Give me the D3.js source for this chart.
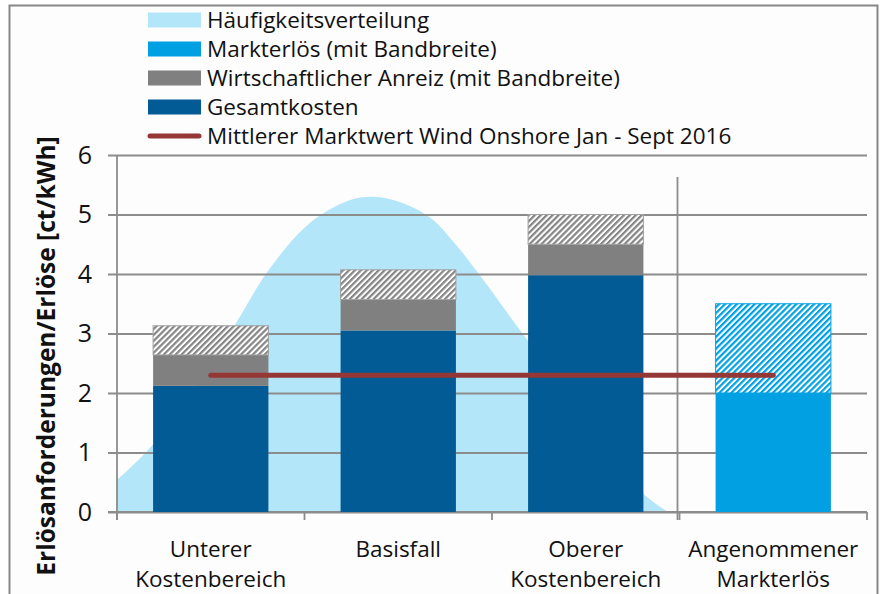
<!DOCTYPE html>
<html lang="de">
  <head>
    <meta charset="UTF-8" />
    <script src="https://d3js.org/d3.v7.min.js"></script>
    <title>Erlösanforderungen</title>
    <style>
      body { margin: 0; background: #fff; }
      text { font-family: "Open Sans", "Noto Sans", sans-serif; fill: #111; }
    </style>
  </head>
  <body>
    <div id="chart"></div>
    <script>
      // data
      var categories = [
        ["Unterer", "Kostenbereich"],
        ["Basisfall"],
        ["Oberer", "Kostenbereich"],
        ["Angenommener", "Markterlös"]
      ];
      var gesamtkosten = [2.12, 3.05, 3.98, 0];
      var anreiz = [0.52, 0.52, 0.52, 0];
      var anreizBand = [0.49, 0.5, 0.5, 0];
      var markterloes = [0, 0, 0, 2.0];
      var markterloesBand = [0, 0, 0, 1.5];
      var marktwert = 2.3; // Mittlerer Marktwert Wind Onshore
      // frequency distribution, position in category units
      var verteilungPos = [0, 0.19, 0.6, 0.81, 1.03, 1.24, 1.36, 1.5, 1.67, 1.8, 1.93, 2.17, 2.36, 2.57, 2.79, 2.89, 2.94];
      var verteilungVal = [0.54, 1.13, 3.0, 4.07, 4.86, 5.24, 5.3, 5.22, 4.95, 4.52, 4.0, 2.97, 2.18, 1.3, 0.36, 0.1, 0];
      var yTicks = [0, 1, 2, 3, 4, 5, 6];
      var legendNames = [
        "Häufigkeitsverteilung",
        "Markterlös (mit Bandbreite)",
        "Wirtschaftlicher Anreiz (mit Bandbreite)",
        "Gesamtkosten",
        "Mittlerer Marktwert Wind Onshore Jan - Sept 2016"
      ];

      var colors = {
        verteilung: "#b4e6fa",
        markt: "#00a0e3",
        anreiz: "#808080",
        kosten: "#025b94",
        line: "#953735",
        grid: "#8c8c8c"
      };

      var width = 880,
        height = 594,
        plot = { left: 117, right: 867, top: 155, bottom: 512 };

      var svg = d3.select("#chart").append("svg")
        .attr("width", width).attr("height", height);

      var defs = svg.append("defs");
      function hatch(id, color) {
        var p = defs.append("pattern")
          .attr("id", id)
          .attr("patternUnits", "userSpaceOnUse")
          .attr("width", 4.2).attr("height", 4.2)
          .attr("patternTransform", "rotate(45)");
        p.append("rect").attr("width", 4.2).attr("height", 4.2).attr("fill", "#fff");
        p.append("rect").attr("width", 2.2).attr("height", 4.2).attr("fill", color);
      }
      hatch("hatch-gray", "#858585");
      hatch("hatch-blue", colors.markt);

      // outer frame
      svg.append("rect")
        .attr("x", 9.5).attr("y", 5.5)
        .attr("width", 868).attr("height", 620)
        .attr("fill", "#fdfdfd")
        .attr("stroke", "#878787").attr("stroke-width", 2);

      var x = d3.scaleBand()
        .domain(d3.range(categories.length))
        .range([plot.left, plot.right]);
      var xc = d3.scaleLinear().domain([0, categories.length]).range([plot.left, plot.right]);
      var y = d3.scaleLinear().domain([0, 6]).range([plot.bottom, plot.top]);

      // distribution area
      var area = d3.area()
        .x(function (d) { return xc(d[0]); })
        .y0(y(0))
        .y1(function (d) { return y(d[1]); })
        .curve(d3.curveCatmullRom.alpha(0.5));
      svg.append("path")
        .datum(d3.zip(verteilungPos, verteilungVal))
        .attr("d", area)
        .attr("fill", colors.verteilung);

      // gridlines + y axis
      var yAxis = d3.axisLeft(y)
        .tickValues(yTicks)
        .tickSize(-(plot.right - plot.left))
        .tickFormat(d3.format("d"));
      var gy = svg.append("g")
        .attr("transform", "translate(" + plot.left + ",0)")
        .call(yAxis);
      gy.select(".domain").remove();
      gy.selectAll(".tick line")
        .attr("x1", -9)
        .attr("stroke", colors.grid).attr("stroke-width", 1.8);
      gy.selectAll(".tick text")
        .attr("x", -25)
        .attr("font-size", 25)
        .attr("fill", "#111");
      svg.append("line")
        .attr("x1", plot.left).attr("x2", plot.left)
        .attr("y1", plot.top).attr("y2", plot.bottom + 8)
        .attr("stroke", colors.grid).attr("stroke-width", 1.8);

      // x axis with ticks at category boundaries
      var gx = svg.append("g");
      gx.selectAll("line.xt")
        .data(d3.range(categories.length + 1))
        .join("line")
        .attr("class", "xt")
        .attr("x1", function (d) { return xc(d); })
        .attr("x2", function (d) { return xc(d); })
        .attr("y1", plot.bottom).attr("y2", plot.bottom + 8)
        .attr("stroke", colors.grid).attr("stroke-width", 1.8);
      gx.append("line")
        .attr("x1", plot.left - 9).attr("x2", plot.right)
        .attr("y1", plot.bottom).attr("y2", plot.bottom)
        .attr("stroke", colors.grid).attr("stroke-width", 1.8);

      // separator between cost cases and market revenue
      svg.append("line")
        .attr("x1", xc(3) - 2).attr("x2", xc(3) - 2)
        .attr("y1", 177).attr("y2", plot.bottom + 8)
        .attr("stroke", colors.grid).attr("stroke-width", 1.8);

      gx.selectAll("text.cat")
        .data(categories)
        .join("text")
        .attr("class", "cat")
        .attr("text-anchor", "middle")
        .attr("font-size", 22.5)
        .attr("x", function (d, i) { return x(i) + x.bandwidth() / 2; })
        .attr("y", 557)
        .selectAll("tspan")
        .data(function (d) { return d; })
        .join("tspan")
        .attr("x", function () { return d3.select(this.parentNode).attr("x"); })
        .attr("dy", function (d, i) { return i ? 30 : 0; })
        .text(function (d) { return d; });

      // stacked bars
      var keys = ["kosten", "anreiz", "anreizBand", "markt", "marktBand"];
      var rows = categories.map(function (c, i) {
        return {
          kosten: gesamtkosten[i],
          anreiz: anreiz[i],
          anreizBand: anreizBand[i],
          markt: markterloes[i],
          marktBand: markterloesBand[i]
        };
      });
      var fills = {
        kosten: colors.kosten,
        anreiz: colors.anreiz,
        anreizBand: "url(#hatch-gray)",
        markt: colors.markt,
        marktBand: "url(#hatch-blue)"
      };
      var strokes = { anreizBand: "#a0a0a0", marktBand: colors.markt };
      var stack = d3.stack().keys(keys)(rows);
      var barW = x.bandwidth() * 0.615;

      svg.selectAll("g.layer")
        .data(stack)
        .join("g")
        .attr("class", "layer")
        .selectAll("rect")
        .data(function (s) {
          return s.map(function (d, i) { return { key: s.key, i: i, y0: d[0], y1: d[1] }; })
            .filter(function (d) { return d.y1 > d.y0; });
        })
        .join("rect")
        .attr("x", function (d) { return x(d.i) + (x.bandwidth() - barW) / 2; })
        .attr("width", barW)
        .attr("y", function (d) { return y(d.y1); })
        .attr("height", function (d) { return y(d.y0) - y(d.y1); })
        .attr("fill", function (d) { return fills[d.key]; })
        .attr("stroke", function (d) { return strokes[d.key] || "none"; })
        .attr("stroke-width", 1);

      // average market value line
      svg.append("line")
        .attr("x1", x(0) + x.bandwidth() / 2)
        .attr("x2", x(3) + x.bandwidth() / 2)
        .attr("y1", y(marktwert)).attr("y2", y(marktwert))
        .attr("stroke", colors.line).attr("stroke-width", 5)
        .attr("stroke-linecap", "round");

      // y axis title
      svg.append("text")
        .attr("transform", "translate(45," + 356 + ") rotate(-90)")
        .attr("text-anchor", "middle")
        .attr("dominant-baseline", "central")
        .attr("font-size", 24.5)
        .attr("font-weight", "bold")
        .text("Erlösanforderungen/Erlöse [ct/kWh]");

      // legend
      var legendColors = [colors.verteilung, colors.markt, colors.anreiz, colors.kosten, colors.line];
      var lg = svg.append("g").attr("transform", "translate(148,20)");
      var item = lg.selectAll("g")
        .data(legendNames)
        .join("g")
        .attr("transform", function (d, i) { return "translate(0," + i * 29 + ")"; });
      item.filter(function (d, i) { return i < 4; })
        .append("rect")
        .attr("y", -7.5).attr("width", 53).attr("height", 15)
        .attr("fill", function (d, i) { return legendColors[i]; });
      item.filter(function (d, i) { return i === 4; })
        .append("line")
        .attr("x1", 2).attr("x2", 51)
        .attr("stroke", colors.line).attr("stroke-width", 5)
        .attr("stroke-linecap", "round");
      item.append("text")
        .attr("x", 59)
        .attr("y", 8)
        .attr("font-size", 22.5)
        .text(function (d) { return d; });
    </script>
  </body>
</html>
